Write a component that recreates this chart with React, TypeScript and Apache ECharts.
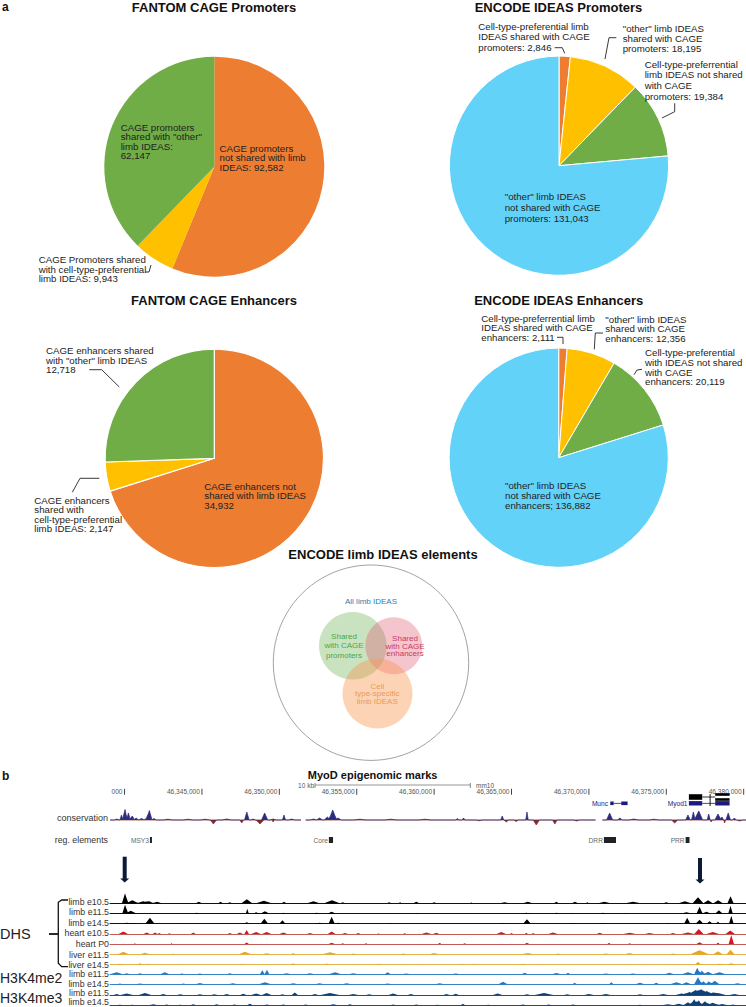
import React, { useEffect, useRef } from "react";
import * as echarts from "echarts";

const SANS = '"Liberation Sans", Arial, sans-serif';
const ORANGE = "#ED7D31";
const YELLOW = "#FFC000";
const GREEN = "#70AD47";
const BLUE = "#63D2F8";

// ---------- pie data ----------
const cagePromoterNames = ["not shared with limb IDEAS", "shared with cell-type-preferential limb IDEAS", 'shared with "other" limb IDEAS'];
const cagePromoterValues = [92582, 9943, 62147];
const cageEnhancerNames = ["not shared with limb IDEAS", "shared with cell-type-preferential limb IDEAS", 'shared with "other" limb IDEAS'];
const cageEnhancerValues = [34932, 2147, 12718];
const ideasNames = ["Cell-type-preferential shared with CAGE", '"other" shared with CAGE', "Cell-type-preferential not shared with CAGE", '"other" not shared with CAGE'];
const ideasPromoterValues = [2846, 18195, 19384, 131043];
const ideasEnhancerValues = [2111, 12356, 20119, 136882];

// ---------- genome browser data (kb after 46,000,000; height) ----------
type Peak = [number, number, number];
const KB_MIN = 339.06;
const KB_MAX = 380.15;
const rulerKb = [340, 345, 350, 355, 360, 365, 370, 375, 380];
const rulerLabels = ["000", "46,345,000", "46,350,000", "46,355,000", "46,360,000", "46,365,000", "46,370,000", "46,375,000", "46,380,000"];
const regNames = ["MSY3", "Core", "DRR", "PRR"];
const regStarts = [341.64, 353.2, 370.97, 376.25];
const regEnds = [341.77, 353.47, 371.75, 376.5];

const conservationUp: Peak[] = [
  [339.5,1,.15],[339.8,5,.1],[340.03,10.5,.15],[340.25,7,.12],[340.5,4,.15],[340.75,2,.15],[341.1,1.5,.2],[341.4,1.5,.15],[341.6,9.5,.18],[341.9,1.5,.15],
  [342.8,.8,.3],[344.1,.8,.3],[345.2,.8,.3],[346.6,1,.3],[347.9,8,.15],[348.3,1,.15],[349.05,7,.2],[349.6,1,.2],[350.3,5,.1],[350.8,1,.2],
  [352.2,1,.2],[352.6,2,.2],[353.1,3,.2],[353.45,10,.25],[353.8,2,.2],[355.2,.8,.4],[357.2,.8,.4],[359.4,.8,.4],[361.5,1.5,.1],[361.9,2,.1],
  [364.4,4,.1],[366,8,.08],[371.34,7,.2],[372,2,.15],[372.9,1,.3],[374.2,.8,.3],[376.4,5,.15],[376.75,8,.12],[377.1,9,.25],[377.74,6,.1],[378.34,6,.2],[378.6,3,.1],[379,7,.15],[379.4,2,.12],
];
const conservationDown: Peak[] = [
  [345.74,4,.2],[347.57,3,.12],[348.75,4,.25],[349.6,2,.08],[362.9,.8,.2],[364.66,2,.15],[365.3,1.5,.15],[366.6,5,.2],[367.8,4,.15],[369.2,1,.2],
  [375.54,3,.2],[377.9,2,.06],[378.77,3,.06],[379.74,1,.2],
];
const conservationGaps = [[351.4, 351.55, 351.7], [370.43, 370.65, 370.87]];

const limbE105: Peak[] = [[340.03,10,.2],[340.5,3,.4],[341.2,2,.4],[341.6,2,.3],[342.1,1.5,.3],[344.8,1.5,.2],[346.2,1.5,.15],[346.8,1,.15],[347.9,4,.35],[349,2.5,.5],[350.3,1.5,.15],[352.2,2,.4],[353.4,3,.5],[354.1,1,.15],[357.1,1,.15],[357.8,1,.1],[358.85,1.5,.2],[360,1,.15],[362.4,.8,.1],[364.55,1,.3],[366.05,1.5,.3],[367.9,1.5,.15],[369.1,1.5,.2],[369.9,1,.1],[371,1.5,.4],[372.85,1.5,.5],[375,1,.2],[376.2,2,.4],[377.05,6,.35],[377.7,3,.3],[378.35,3,.3],[379.15,7,.2]];
const limbE115: Peak[] = [[340.03,9,.18],[340.4,3,.4],[344.66,1,.2],[347.93,5,.1],[348.5,1.5,.2],[349.07,2.5,.3],[350.26,1,.1],[352.4,1,.3],[353.38,2,.3],[358.85,.8,.15],[365.96,1,.3],[367.9,1,.2],[368.97,.8,.1],[370.9,1,.2],[372.4,.6,.1],[376.3,1.5,.4],[377.15,7,.2],[377.6,2,.3],[378.4,3.5,.25],[379.15,8,.15]];
const limbE145: Peak[] = [[340.14,1,.3],[340.6,.8,.2],[341.64,6,.3],[343.8,.5,.1],[347.9,1.5,.2],[349.03,5,.25],[350.2,3.5,.2],[352.6,1,.3],[353.38,7,.2],[353.8,1,.2],[357.2,.8,.15],[364.45,.8,.2],[366,4.5,.25],[368.97,.8,.2],[370.9,.8,.2],[375.1,.6,.15],[376.35,6,.2],[377.15,4,.25],[377.8,2.5,.2],[378.34,2,.15],[379.2,8,.15]];
const heartE105: Peak[] = [[339.92,2.5,.3],[341.43,1.5,.2],[341.97,1.5,.15],[342.25,1,.1],[342.9,.8,.1],[344.44,1.5,.15],[346.8,1,.15],[347.45,1.5,.2],[347.89,4,.15],[348.5,2,.3],[349.18,2,.3],[350.26,1.5,.25],[351.98,1,.2],[353.38,2.5,.25],[354.24,1,.2],[355.1,1,.15],[356.4,.6,.1],[358.1,.8,.1],[359.5,1.5,.3],[360.14,1.2,.2],[364.34,2,.3],[365,1,.1],[365.96,1.2,.1],[366.4,1,.1],[367.68,1.5,.3],[370.7,1.2,.2],[372.63,1.2,.4],[373.92,1,.3],[375.43,1,.2],[376.4,1.5,.4],[377.1,5,.3],[378,2,.4],[379.13,3.5,.3]];
const heartP0: Peak[] = [[340.67,1,.05],[343.04,1,.05],[347.89,1.5,.15],[353.38,1.2,.2],[354.1,.8,.1],[355.6,.8,.1],[360.36,1.2,.1],[361.97,.8,.1],[366,1.2,.15],[371.3,1.2,.1],[372.63,.8,.1],[377.15,1.8,.2],[378.34,1.5,.1],[379.2,9,.17]];
const liverE115: Peak[] = [[339.92,2.5,.35],[341.32,1.5,.3],[343.15,.8,.1],[347.78,2.5,.4],[349.18,1,.3],[350.9,1,.2],[353.27,2,.5],[354.78,.8,.2],[358,.8,.2],[360,1.2,.3],[366.06,1.2,.4],[368,.8,.2],[371.1,.8,.3],[372.63,1.2,.3],[375.43,.8,.2],[377.15,4,.6],[378.34,3,.3],[379.15,4.5,.25]];
const liverE145: Peak[] = [[339.7,1,.2],[341,1.5,.2],[341.5,1,.1],[343.47,1,.05],[347.57,1,.1],[349.18,.8,.1],[350.9,1.5,.15],[353.06,1.5,.1],[354.9,.6,.1],[356.44,1,.2],[358,.8,.05],[358.96,.8,.1],[361.86,1,.1],[362.6,1,.1],[365.74,1,.2],[367,.8,.1],[372.74,.6,.1],[373.5,.6,.1],[375.1,.8,.1],[375.75,.8,.1],[377.05,3,.2],[378.44,1,.3],[379.2,1.5,.3]];
const me2E115: Peak[] = [[339.49,2,.4],[340.14,1,.2],[341,1,.2],[342.6,2,.3],[343.7,.8,.2],[344.87,.8,.2],[346.8,1,.2],[348.9,4,.15],[349.2,4.5,.15],[350.47,1,.3],[351.98,1,.3],[353.6,2,.4],[354.78,1,.3],[357,2,.2],[358.2,.8,.3],[361.4,.8,.3],[365.85,1.5,.2],[367.9,1.2,.3],[368.65,1.5,.15],[371.1,.8,.3],[372.85,.8,.3],[375.2,1.5,.3],[376.4,2,.4],[377,6.5,.2],[377.3,3.5,.2],[377.7,2.5,.3],[378.44,2,.4]];
const me2E145: Peak[] = [[339.7,.8,.2],[341,.8,.3],[343.8,.8,.2],[344.87,1.2,.3],[347,1,.3],[349.07,2,.4],[350.9,1,.3],[352.6,1,.3],[354.35,1,.3],[357,.8,.3],[360.36,1,.3],[364.45,2.5,.3],[369.08,1.5,.15],[371.45,2,.15],[373.3,1.5,.3],[374.35,1.5,.2],[375.65,2,.4],[376.3,2,.3],[377.05,7,.25],[377.4,3,.2],[377.75,3,.2],[378.13,3.5,.3],[379.6,1,.3]];
const me3E115: Peak[] = [[339.49,1,.2],[340.14,1.5,.4],[341.32,2,.4],[342.5,1,.2],[343.6,.8,.2],[344.87,.8,.2],[345.8,.8,.2],[346.6,1,.2],[347.67,1.2,.2],[348.5,1.5,.3],[349.18,2,.3],[350.2,.8,.15],[351,2.5,.2],[352.3,1,.2],[353.27,2,.6],[354.78,1,.3],[355.8,.8,.2],[357.35,1.5,.3],[358.5,1,.2],[360.8,1,.2],[361.4,1.2,.2],[364.1,1.5,.3],[366,.8,.2],[367.1,2,.6],[368.6,.8,.2],[370,1,.3],[371.1,1,.3],[373.3,.8,.2],[374.8,1,.3],[376,1.5,.4],[376.5,3,.4],[376.9,5,.3],[377.25,6,.3],[377.6,4,.3],[378,2.5,.4],[378.44,2,.4],[379.4,1,.3]];
const me3E145: Peak[] = [[339.7,.6,.3],[340.5,.6,.2],[341.86,1,.3],[342.72,.8,.2],[343.6,.6,.2],[344.44,1,.2],[345.95,1,.2],[347.1,.8,.2],[348.1,1.5,.2],[349.2,.7,.2],[350.26,.8,.2],[351.7,.7,.2],[353.49,1,.3],[354.56,1,.2],[357.35,.8,.2],[358.85,.8,.2],[360.2,.6,.2],[361.86,1.5,.15],[363.5,.6,.2],[365.74,.8,.2],[367.4,.7,.2],[368.97,.8,.2],[373.3,.6,.2],[375.1,1,.4],[375.8,1.5,.4],[376.4,3,.3],[376.8,6,.25],[377.1,5,.2],[377.5,4,.3],[378,2.5,.4],[378.6,1.2,.4],[379.3,.8,.2]];

const trackNames = ["limb e10.5", "limb e11.5", "limb e14.5", "heart e10.5", "heart P0", "liver e11.5", "liver e14.5", "limb e11.5", "limb e14.5", "limb e11.5", "limb e14.5"];
const trackPeaks = [limbE105, limbE115, limbE145, heartE105, heartP0, liverE115, liverE145, me2E115, me2E145, me3E115, me3E145];
// layout/styling of tracks (not data)
const trackBaselines = [903.3, 913.7, 923.7, 934, 944, 954.3, 964.7, 974.3, 984.3, 995, 1005.3];
const trackLabelY = [902, 912.3, 923, 933.3, 944, 954.7, 964.7, 974, 984.3, 993.3, 1002.3];
const trackFill = ["#000", "#000", "#000", "#E01020", "#E01020", "#E8A820", "#E8A820", "#1F78C8", "#1F78C8", "#0F3F78", "#0F3F78"];
const trackLine = ["#111", "#111", "#111", "#C25A55", "#C25A55", "#E3B24A", "#E3B24A", "#3583C4", "#3583C4", "#1E4E80", "#1E4E80"];

// each peak is read as [position, height, half width]; the outline is their upper envelope
const peakPoints = (peaks: Peak[]) => {
  const xs = new Set<number>([KB_MIN, KB_MAX]);
  peaks.forEach(([k, , w]) => { xs.add(k - w); xs.add(k); xs.add(k + w); });
  return [...xs].sort((a, b) => a - b).map((x) => {
    let y = 0;
    peaks.forEach(([k, h, w]) => { y = Math.max(y, h * (1 - Math.abs(x - k) / w)); });
    return [x, y] as [number, number];
  });
};

const withGaps = (pts: any[], gaps: number[][]) => {
  const out = [...pts];
  gaps.forEach(([a, g, b]) => out.push([a, 0], [g, null], [b, 0]));
  return out.sort((a, b) => a[0] - b[0]);
};

// ---------- graphic helpers ----------
const txt = (text: string, x: number, y: number, o: any = {}) => {
  const size = o.size ?? 9.7;
  const lh = o.lh ?? 9.6;
  return {
    type: "text",
    z: 100,
    x,
    y: y - lh / 2,
    silent: true,
    style: {
      text,
      fill: o.fill ?? "#222",
      font: `${o.bold ? "bold " : ""}${size}px ${SANS}`,
      lineHeight: lh,
      align: o.align ?? "left",
      textAlign: o.align ?? "left",
      verticalAlign: "top",
      textVerticalAlign: "top",
    },
  };
};
const line = (points: number[][], o: any = {}) => ({
  type: "polyline",
  z: 100,
  silent: true,
  shape: { points },
  style: { stroke: o.stroke ?? "#222", lineWidth: o.w ?? 0.9, fill: "none" },
});
const circle = (cx: number, cy: number, r: number, fill: string, stroke?: string) => ({
  type: "circle",
  z: 50,
  silent: true,
  shape: { cx, cy, r },
  style: stroke ? { fill: "none", stroke, lineWidth: 0.8 } : { fill },
});
const arrow = (x: number, y0: number, y1: number) => [
  { type: "rect", z: 100, silent: true, shape: { x: x - 2, y: y0, width: 4, height: y1 - y0 - 3 }, style: { fill: "#0B1B35" } },
  { type: "polygon", z: 100, silent: true, shape: { points: [[x - 4.5, y1 - 4], [x + 4.5, y1 - 4], [x, y1]] }, style: { fill: "#0B1B35" } },
];

const graphics: any[] = [
  txt("a", 2, 7, { bold: true, size: 12, lh: 12, fill: "#111" }),
  txt("b", 2, 776, { bold: true, size: 12, lh: 12, fill: "#111" }),
  txt("FANTOM CAGE Promoters", 214, 7.5, { bold: true, size: 13, lh: 14, align: "center", fill: "#111" }),
  txt("ENCODE IDEAS Promoters", 558.5, 7.5, { bold: true, size: 13, lh: 14, align: "center", fill: "#111" }),
  txt("FANTOM CAGE Enhancers", 214, 300, { bold: true, size: 13, lh: 14, align: "center", fill: "#111" }),
  txt("ENCODE IDEAS Enhancers", 558.7, 300, { bold: true, size: 13, lh: 14, align: "center", fill: "#111" }),
  txt("ENCODE limb IDEAS elements", 383, 554, { bold: true, size: 13, lh: 14, align: "center", fill: "#111" }),
  txt("MyoD epigenomic marks", 372.6, 775, { bold: true, size: 11, lh: 12, align: "center", fill: "#111" }),

  txt('CAGE promoters\nshared with "other"\nlimb IDEAS:\n62,147', 120.7, 127),
  txt("CAGE promoters\nnot shared with limb\nIDEAS: 92,582", 219.5, 148),
  txt("CAGE Promoters shared\nwith cell-type-preferential\nlimb IDEAS: 9,943", 38.7, 259.7),
  line([[145, 272], [149, 272], [151, 265]]),

  txt("Cell-type-preferential limb\nIDEAS shared with CAGE\npromoters: 2,846", 478.3, 26.3, { lh: 10.7 }),
  line([[554.7, 47.7], [562.3, 47.7], [564.7, 53.3]]),
  txt('"other" limb IDEAS\nshared with CAGE\npromoters: 18,195', 622.7, 28, { lh: 10 }),
  line([[616.3, 37.7], [609, 37.7], [605, 59]]),
  txt("Cell-type-preferrential\nlimb IDEAS not shared\nwith CAGE\npromoters: 19,384", 644.7, 64, { lh: 10.7 }),
  line([[674.7, 103.3], [674.7, 111.7], [662, 118]]),
  txt('"other" limb IDEAS\nnot shared with CAGE\npromoters: 131,043', 504.7, 196.7, { lh: 10.7 }),

  txt('CAGE enhancers shared\nwith "other" limb IDEAS\n12,718', 46, 350.7, { lh: 9.5 }),
  line([[89.3, 369.7], [101.7, 369.7], [119.3, 387]]),
  txt("CAGE enhancers not\nshared with limb IDEAS\n34,932", 204.3, 486.3, { lh: 9.5 }),
  txt("CAGE enhancers\nshared with\ncell-type-preferential\nlimb IDEAS: 2,147", 34.3, 500.3, { lh: 9.5 }),
  line([[99.3, 478.3], [80, 478.3], [72.3, 492.3]]),

  txt("Cell-type-preferrential limb\nIDEAS shared with CAGE\nenhancers: 2,111", 481.3, 318, { lh: 9.7 }),
  line([[557, 337.3], [563, 337.3], [563, 344]]),
  txt('"other" limb IDEAS\nshared with CAGE\nenhancers: 12,356', 605.3, 319.3, { lh: 9.7 }),
  line([[603, 333], [595.3, 333], [594.3, 349.3]]),
  txt("Cell-type-preferential\nwith IDEAS not shared\nwith CAGE\nenhancers: 20,119", 645, 352.7, { lh: 9.7 }),
  line([[642, 369.3], [637, 370], [634, 374.7]]),
  txt('"other" limb IDEAS\nnot shared with CAGE\nenhancers; 136,882', 505, 485.7, { lh: 9.7 }),

  circle(371, 662.7, 97.7, "", "#8a8a8a"),
  circle(352.8, 645.8, 33.8, "rgba(112,180,90,0.38)"),
  circle(393.8, 645.8, 28.5, "rgba(225,80,105,0.33)"),
  circle(377.5, 693.5, 35, "rgba(250,150,80,0.42)"),
  txt("All limb IDEAS", 371, 601, { size: 8, lh: 9, align: "center", fill: "#2E7CB0" }),
  txt("Shared\nwith CAGE\npromoters", 344, 636, { size: 8, lh: 9.5, align: "center", fill: "#4AA84A" }),
  txt("Shared\nwith CAGE\nenhancers", 405, 638.7, { size: 8, lh: 7.6, align: "center", fill: "#C83C5E" }),
  txt("Cell\ntype-specific\nlimb IDEAS", 377.3, 686, { size: 8, lh: 7.6, align: "center", fill: "#E99A55" }),

  txt("10 kb", 314, 785.7, { size: 6.5, lh: 7, align: "right", fill: "#555" }),
  line([[315, 783], [315, 788]], { stroke: "#777" }),
  line([[315, 785], [470.3, 785]], { stroke: "#888" }),
  line([[470.3, 783], [470.3, 788]], { stroke: "#777" }),
  txt("mm10", 476, 785.7, { size: 6.5, lh: 7, fill: "#555" }),

  txt("conservation", 108, 817.7, { size: 9, lh: 10, align: "right", fill: "#333" }),
  txt("reg. elements", 108, 840, { size: 8.8, lh: 10, align: "right", fill: "#333" }),

  ...arrow(124.7, 856.7, 882.5),
  ...arrow(700, 858, 883.5),

  txt("DHS", 0, 933.7, { size: 14.5, lh: 16, fill: "#222" }),
  txt("H3K4me2", 0, 978, { size: 14, lh: 16, fill: "#222" }),
  txt("H3K4me3", 0, 997.7, { size: 14, lh: 16, fill: "#222" }),
  line([[68, 900], [61.7, 900], [58.3, 902.3], [58.3, 963.3], [61.7, 966.7], [68, 966.7]], { stroke: "#111", w: 1.3 }),
  line([[49, 934], [58, 934]], { stroke: "#111", w: 1.8 }),
  ...trackNames.map((n, i) => txt(n, 109, trackLabelY[i], { size: 8.8, lh: 9, align: "right", fill: "#333" })),
];

// ---------- series ----------
const pie = (names: string[], values: number[], colors: string[], cx: number, cy: number, r: number, bw: number) => ({
  type: "pie",
  silent: true,
  center: [cx, cy],
  radius: [0, r],
  startAngle: 90,
  clockwise: true,
  label: { show: false },
  labelLine: { show: false },
  data: values.map((value, i) => ({
    name: names[i],
    value,
    itemStyle: { color: colors[i], borderColor: "#fff", borderWidth: bw },
  })),
});

const LEFT = 110;
const grids: any[] = [];
const xAxes: any[] = [];
const yAxes: any[] = [];
const series: any[] = [
  pie(cagePromoterNames, cagePromoterValues, [ORANGE, YELLOW, GREEN], 214.3, 166.7, 110, 0),
  pie(ideasNames, ideasPromoterValues, [ORANGE, YELLOW, GREEN, BLUE], 559, 165.7, 109.6, 1),
  pie(cageEnhancerNames, cageEnhancerValues, [ORANGE, YELLOW, GREEN], 214.3, 458.3, 109.2, 1.2),
  pie(ideasNames, ideasEnhancerValues, [ORANGE, YELLOW, GREEN, BLUE], 558.7, 457.7, 109.6, 1),
];

const addGrid = (top: number, height: number, yMin: number, yMax: number, axisColor?: string, inverse = false) => {
  const idx = grids.length;
  grids.push({ left: LEFT, width: 746 - LEFT, top, height, containLabel: false });
  xAxes.push({
    gridIndex: idx,
    type: "value",
    min: KB_MIN,
    max: KB_MAX,
    show: !!axisColor,
    axisLine: { show: !!axisColor, onZero: false, lineStyle: { color: axisColor, width: 1 } },
    axisTick: { show: false },
    axisLabel: { show: false },
    splitLine: { show: false },
  });
  yAxes.push({ gridIndex: idx, type: "value", min: yMin, max: yMax, show: false, inverse, splitLine: { show: false } });
  return idx;
};

// tracks
trackPeaks.forEach((peaks, i) => {
  const idx = addGrid(trackBaselines[i] - 12, 12, 0, 12, trackLine[i]);
  series.push({
    type: "line",
    name: trackNames[i],
    xAxisIndex: idx,
    yAxisIndex: idx,
    showSymbol: false,
    silent: true,
    clip: false,
    lineStyle: { width: 0 },
    areaStyle: { color: trackFill[i], opacity: 1 },
    data: peakPoints(peaks),
    z: 3,
  });
});

// conservation
const consIdx = addGrid(808, 18, -6, 12);
series.push({
  type: "line",
  name: "conservation down",
  xAxisIndex: consIdx,
  yAxisIndex: consIdx,
  showSymbol: false,
  silent: true,
  connectNulls: false,
  lineStyle: { width: 0.7, color: "#8B2A20" },
  areaStyle: { color: "#8B2A20", opacity: 1 },
  data: withGaps(peakPoints(conservationDown).map(([k, h]) => [k, -h]), conservationGaps),
  z: 3,
});
series.push({
  type: "line",
  name: "conservation up",
  xAxisIndex: consIdx,
  yAxisIndex: consIdx,
  showSymbol: false,
  silent: true,
  connectNulls: false,
  lineStyle: { width: 0.7, color: "#2B2C80" },
  areaStyle: { color: "#2B2C80", opacity: 1 },
  data: withGaps(peakPoints(conservationUp), conservationGaps),
  z: 3,
});

// ruler / genes / regulatory elements, y axis in page-like units from 780 down
const rulerIdx = addGrid(780, 70, 0, 70, undefined, true);
const RULER_ROW = 11.7;
const REG_ROW = 60;
const customBase = { type: "custom", xAxisIndex: rulerIdx, yAxisIndex: rulerIdx, silent: true, clip: false, z: 5 };
series.push({
  ...customBase,
  name: "ruler",
  data: rulerKb.map((k, i) => [k, i]),
  renderItem: (_: any, api: any) => {
    const p = api.coord([api.value(0), RULER_ROW]);
    const label = rulerLabels[api.value(1)];
    return {
      type: "group",
      children: [
        { type: "rect", shape: { x: p[0] - 0.5, y: p[1] - 3, width: 1, height: 6 }, style: { fill: "#444" } },
        { type: "text", x: p[0] - 2, y: p[1], style: { text: label, fill: "#555", font: `6.6px ${SANS}`, align: "right", verticalAlign: "middle", textAlign: "right", textVerticalAlign: "middle" } },
      ],
    };
  },
});
series.push({
  ...customBase,
  name: "reg. elements",
  data: regStarts.map((s, i) => [s, regEnds[i], i]),
  renderItem: (_: any, api: any) => {
    const a = api.coord([api.value(0), REG_ROW - 3]);
    const b = api.coord([api.value(1), REG_ROW + 3]);
    const name = regNames[api.value(2)];
    return {
      type: "group",
      children: [
        { type: "rect", shape: { x: a[0], y: a[1], width: Math.max(b[0] - a[0], 1), height: b[1] - a[1] }, style: { fill: "#222" } },
        { type: "text", x: a[0] - 1, y: (a[1] + b[1]) / 2, style: { text: name, fill: "#666", font: `6.6px ${SANS}`, align: "right", verticalAlign: "middle", textAlign: "right", textVerticalAlign: "middle" } },
      ],
    };
  },
});

// gene models: [start, end, row, half thickness, colour flag]
const mundExons = [[371.38, 371.6], [372.09, 372.5]];
const mundIntron = [371.6, 372.09];
const myodNavyExons = [[376.46, 377.32], [378.16, 379.09]];
const myodBlackExons = [[376.46, 377.32]];
const myodBlackBars = [[378.16, 379.09, 14.5], [378.16, 379.09, 19.5]];
const myodIntron = [377.32, 378.16];
const ROW_NAVY = 23.3;
const ROW_BLACK = 17;
const geneRects = [
  ...mundExons.map((e) => [e[0], e[1], ROW_NAVY, 1.8, 0]),
  [mundIntron[0], mundIntron[1], ROW_NAVY, 0.4, 0],
  ...myodNavyExons.map((e) => [e[0], e[1], ROW_NAVY, 2.2, 0]),
  [myodIntron[0], myodIntron[1], ROW_NAVY, 0.4, 0],
  ...myodBlackExons.map((e) => [e[0], e[1], ROW_BLACK, 2.8, 1]),
  ...myodBlackBars.map((e) => [e[0], e[1], e[2], 1.3, 1]),
  [myodIntron[0], myodIntron[1], ROW_BLACK, 0.4, 1],
  [377.8, 377.86, 20, 6, 1],
];
series.push({
  ...customBase,
  name: "genes",
  data: geneRects,
  renderItem: (_: any, api: any) => {
    const c = api.value(4) ? "#000" : "#1A1A80";
    const a = api.coord([api.value(0), api.value(2) - api.value(3)]);
    const b = api.coord([api.value(1), api.value(2) + api.value(3)]);
    return { type: "rect", shape: { x: a[0], y: a[1], width: b[0] - a[0], height: b[1] - a[1] }, style: { fill: c } };
  },
});
graphics.push(
  txt("Munc", 608, 803, { size: 6.6, lh: 7, align: "right", fill: "#1A1A80" }),
  txt("Myod1", 687.5, 803, { size: 6.6, lh: 7, align: "right", fill: "#1A1A80" }),
);

export default function App() {
  const ref = useRef<HTMLDivElement>(null);
  useEffect(() => {
    const chart = echarts.init(ref.current as HTMLDivElement, undefined, { renderer: "svg" });
    chart.setOption({
      animation: false,
      backgroundColor: "#fff",
      textStyle: { fontFamily: SANS },
      grid: grids,
      xAxis: xAxes,
      yAxis: yAxes,
      series,
      graphic: { elements: graphics },
    });
    return () => chart.dispose();
  }, []);
  return <div ref={ref} style={{ position: "absolute", left: 0, top: 0, width: 746, height: 1007 }} />;
}
